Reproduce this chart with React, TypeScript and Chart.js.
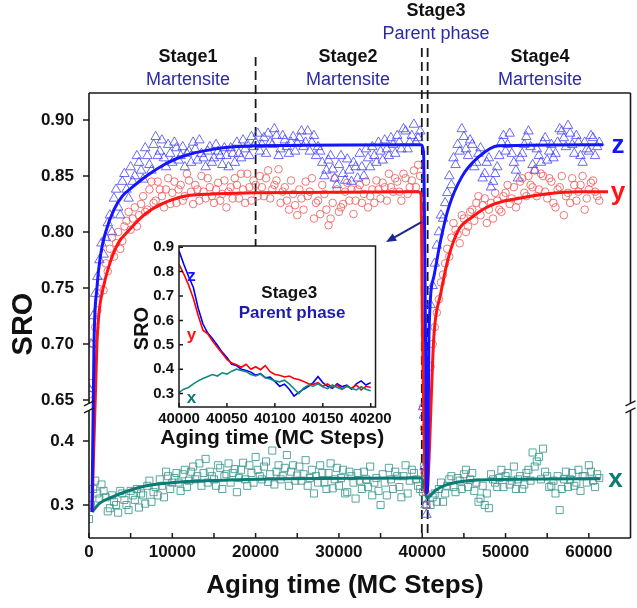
import React, { useEffect, useRef } from 'react';
import { Chart, LinearScale, registerables } from 'chart.js';

Chart.register(...registerables);

// ================= DATA =================
// Main chart: aging steps for stages 1-2 (martensite), stage 3 transition, stage 4
const stage12Steps = [0, 500, 1000, 1500, 2000, 2500, 3000, 3500, 4000, 4500, 5000, 5500, 6000, 6500, 7000, 7500, 8000, 8500, 9000, 9500, 10000, 10500, 11000, 11500, 12000, 12500, 13000, 13500, 14000, 14500, 15000, 15500, 16000, 16500, 17000, 17500, 18000, 18500, 19000, 19500, 20000, 20500, 21000, 21500, 22000, 22500, 23000, 23500, 24000, 24500, 25000, 25500, 26000, 26500, 27000, 27500, 28000, 28500, 29000, 29500, 30000, 30500, 31000, 31500, 32000, 32500, 33000, 33500, 34000, 34500, 35000, 35500, 36000, 36500, 37000, 37500, 38000, 38500, 39000, 39500];
const zStage12 = [0.660, 0.725, 0.760, 0.790, 0.795, 0.815, 0.830, 0.822, 0.845, 0.838, 0.858, 0.850, 0.862, 0.847, 0.868, 0.855, 0.885, 0.872, 0.866, 0.878, 0.862, 0.875, 0.868, 0.858, 0.872, 0.880, 0.864, 0.870, 0.858, 0.876, 0.866, 0.872, 0.860, 0.868, 0.875, 0.862, 0.870, 0.882, 0.878, 0.885, 0.880, 0.872, 0.884, 0.888, 0.878, 0.886, 0.874, 0.882, 0.870, 0.885, 0.879, 0.890, 0.880, 0.872, 0.886, 0.876, 0.862, 0.855, 0.868, 0.848, 0.860, 0.852, 0.865, 0.845, 0.858, 0.870, 0.850, 0.866, 0.876, 0.862, 0.872, 0.882, 0.868, 0.878, 0.886, 0.874, 0.890, 0.880, 0.896, 0.884];
const yStage12 = [0.655, 0.700, 0.730, 0.755, 0.772, 0.785, 0.778, 0.800, 0.792, 0.810, 0.802, 0.822, 0.815, 0.832, 0.820, 0.845, 0.828, 0.838, 0.822, 0.848, 0.835, 0.826, 0.842, 0.832, 0.846, 0.825, 0.838, 0.850, 0.830, 0.840, 0.826, 0.844, 0.834, 0.822, 0.840, 0.848, 0.830, 0.838, 0.852, 0.828, 0.842, 0.850, 0.832, 0.855, 0.838, 0.846, 0.826, 0.840, 0.820, 0.834, 0.815, 0.830, 0.845, 0.836, 0.812, 0.828, 0.842, 0.820, 0.812, 0.848, 0.818, 0.825, 0.844, 0.838, 0.828, 0.842, 0.834, 0.822, 0.838, 0.846, 0.830, 0.840, 0.852, 0.836, 0.845, 0.828, 0.848, 0.840, 0.855, 0.860];
const xStage12 = [0.278, 0.325, 0.318, 0.332, 0.312, 0.295, 0.305, 0.288, 0.318, 0.300, 0.322, 0.308, 0.296, 0.315, 0.330, 0.305, 0.328, 0.340, 0.312, 0.345, 0.335, 0.350, 0.322, 0.355, 0.338, 0.360, 0.345, 0.330, 0.372, 0.352, 0.340, 0.362, 0.325, 0.348, 0.335, 0.356, 0.342, 0.366, 0.330, 0.350, 0.375, 0.345, 0.360, 0.336, 0.385, 0.352, 0.340, 0.358, 0.330, 0.362, 0.346, 0.338, 0.370, 0.342, 0.318, 0.335, 0.350, 0.325, 0.365, 0.340, 0.330, 0.355, 0.320, 0.345, 0.310, 0.338, 0.352, 0.328, 0.315, 0.342, 0.300, 0.335, 0.358, 0.325, 0.345, 0.312, 0.362, 0.338, 0.350, 0.330];

const stage12StepsB = [250, 750, 1250, 1750, 2250, 2750, 3250, 3750, 4250, 4750, 5250, 5750, 6250, 6750, 7250, 7750, 8250, 8750, 9250, 9750, 10250, 10750, 11250, 11750, 12250, 12750, 13250, 13750, 14250, 14750, 15250, 15750, 16250, 16750, 17250, 17750, 18250, 18750, 19250, 19750, 20250, 20750, 21250, 21750, 22250, 22750, 23250, 23750, 24250, 24750, 25250, 25750, 26250, 26750, 27250, 27750, 28250, 28750, 29250, 29750, 30250, 30750, 31250, 31750, 32250, 32750, 33250, 33750, 34250, 34750, 35250, 35750, 36250, 36750, 37250, 37750, 38250, 38750, 39250, 39750];
const zStage12B = [0.700, 0.745, 0.775, 0.780, 0.808, 0.800, 0.838, 0.815, 0.852, 0.830, 0.845, 0.868, 0.855, 0.875, 0.860, 0.878, 0.868, 0.882, 0.858, 0.870, 0.880, 0.864, 0.876, 0.870, 0.862, 0.874, 0.882, 0.866, 0.872, 0.862, 0.878, 0.868, 0.875, 0.858, 0.870, 0.880, 0.866, 0.874, 0.868, 0.876, 0.888, 0.878, 0.870, 0.880, 0.892, 0.868, 0.886, 0.876, 0.880, 0.872, 0.884, 0.876, 0.890, 0.880, 0.868, 0.872, 0.850, 0.864, 0.856, 0.842, 0.868, 0.846, 0.855, 0.862, 0.848, 0.858, 0.874, 0.858, 0.868, 0.880, 0.864, 0.874, 0.884, 0.870, 0.880, 0.892, 0.874, 0.886, 0.880, 0.890];
const yStage12B = [0.665, 0.715, 0.745, 0.748, 0.765, 0.795, 0.790, 0.785, 0.805, 0.818, 0.812, 0.805, 0.825, 0.818, 0.838, 0.826, 0.845, 0.832, 0.838, 0.825, 0.845, 0.838, 0.828, 0.852, 0.836, 0.842, 0.828, 0.836, 0.848, 0.832, 0.838, 0.828, 0.846, 0.836, 0.830, 0.842, 0.852, 0.826, 0.840, 0.846, 0.832, 0.840, 0.848, 0.830, 0.842, 0.856, 0.836, 0.828, 0.846, 0.824, 0.838, 0.820, 0.832, 0.848, 0.826, 0.816, 0.834, 0.806, 0.826, 0.838, 0.822, 0.836, 0.828, 0.816, 0.838, 0.826, 0.845, 0.832, 0.826, 0.838, 0.844, 0.828, 0.840, 0.848, 0.836, 0.852, 0.834, 0.846, 0.840, 0.850];
const xStage12B = [0.300, 0.338, 0.310, 0.322, 0.290, 0.315, 0.300, 0.322, 0.308, 0.292, 0.315, 0.325, 0.318, 0.302, 0.338, 0.320, 0.315, 0.330, 0.352, 0.325, 0.342, 0.335, 0.348, 0.328, 0.352, 0.340, 0.365, 0.350, 0.335, 0.345, 0.330, 0.358, 0.345, 0.365, 0.350, 0.320, 0.355, 0.340, 0.362, 0.335, 0.355, 0.340, 0.368, 0.348, 0.332, 0.362, 0.345, 0.378, 0.352, 0.338, 0.360, 0.348, 0.330, 0.355, 0.345, 0.362, 0.335, 0.350, 0.326, 0.358, 0.342, 0.318, 0.352, 0.335, 0.350, 0.325, 0.340, 0.360, 0.335, 0.322, 0.348, 0.315, 0.340, 0.352, 0.328, 0.345, 0.318, 0.355, 0.340, 0.325];

const stage3Steps = [40100, 40200, 40300, 40400, 40500];
const zStage3 = [0.620, 0.440, 0.360, 0.300, 0.285];
const yStage3 = [0.580, 0.420, 0.350, 0.320, 0.300];
const xStage3 = [0.320, 0.360, 0.340, 0.310, 0.300];

const stage4Steps = [41000, 41500, 42000, 42500, 43000, 43500, 44000, 44500, 45000, 45500, 46000, 46500, 47000, 47500, 48000, 48500, 49000, 49500, 50000, 50500, 51000, 51500, 52000, 52500, 53000, 53500, 54000, 54500, 55000, 55500, 56000, 56500, 57000, 57500, 58000, 58500, 59000, 59500, 60000, 60500, 61000];
const zStage4 = [0.735, 0.772, 0.800, 0.812, 0.835, 0.842, 0.860, 0.872, 0.885, 0.868, 0.878, 0.862, 0.875, 0.852, 0.866, 0.845, 0.858, 0.880, 0.872, 0.888, 0.862, 0.848, 0.870, 0.885, 0.876, 0.855, 0.868, 0.880, 0.864, 0.878, 0.870, 0.892, 0.884, 0.895, 0.878, 0.886, 0.868, 0.880, 0.872, 0.884, 0.876];
const yStage4 = [0.680, 0.715, 0.740, 0.762, 0.785, 0.795, 0.802, 0.790, 0.812, 0.805, 0.820, 0.826, 0.815, 0.830, 0.820, 0.812, 0.828, 0.818, 0.835, 0.825, 0.840, 0.828, 0.848, 0.832, 0.842, 0.855, 0.838, 0.850, 0.830, 0.845, 0.822, 0.840, 0.815, 0.835, 0.848, 0.828, 0.842, 0.820, 0.838, 0.846, 0.832];
const xStage4 = [0.300, 0.318, 0.325, 0.305, 0.330, 0.345, 0.320, 0.338, 0.348, 0.328, 0.350, 0.335, 0.310, 0.300, 0.295, 0.340, 0.328, 0.355, 0.345, 0.332, 0.360, 0.340, 0.325, 0.350, 0.338, 0.360, 0.375, 0.388, 0.345, 0.330, 0.318, 0.292, 0.340, 0.328, 0.350, 0.335, 0.322, 0.345, 0.362, 0.338, 0.348];

const stage4StepsB = [41250, 41750, 42250, 42750, 43250, 43750, 44250, 44750, 45250, 45750, 46250, 46750, 47250, 47750, 48250, 48750, 49250, 49750, 50250, 50750, 51250, 51750, 52250, 52750, 53250, 53750, 54250, 54750, 55250, 55750, 56250, 56750, 57250, 57750, 58250, 58750, 59250, 59750, 60250, 60750, 61250];
const zStage4B = [0.752, 0.788, 0.815, 0.826, 0.850, 0.866, 0.878, 0.892, 0.874, 0.882, 0.858, 0.870, 0.848, 0.862, 0.840, 0.852, 0.868, 0.886, 0.878, 0.870, 0.855, 0.866, 0.878, 0.890, 0.860, 0.874, 0.862, 0.884, 0.872, 0.866, 0.880, 0.890, 0.876, 0.888, 0.870, 0.880, 0.862, 0.874, 0.886, 0.868, 0.880];
const yStage4B = [0.700, 0.728, 0.755, 0.772, 0.778, 0.808, 0.798, 0.815, 0.800, 0.818, 0.810, 0.832, 0.824, 0.808, 0.826, 0.835, 0.820, 0.832, 0.842, 0.830, 0.822, 0.845, 0.835, 0.850, 0.840, 0.832, 0.852, 0.836, 0.848, 0.826, 0.838, 0.850, 0.832, 0.826, 0.842, 0.836, 0.850, 0.830, 0.844, 0.836, 0.828];
const xStage4B = [0.312, 0.305, 0.335, 0.318, 0.340, 0.328, 0.342, 0.325, 0.355, 0.340, 0.322, 0.305, 0.330, 0.318, 0.348, 0.335, 0.342, 0.328, 0.350, 0.338, 0.325, 0.345, 0.332, 0.355, 0.382, 0.368, 0.340, 0.352, 0.328, 0.338, 0.345, 0.325, 0.352, 0.340, 0.330, 0.355, 0.345, 0.335, 0.352, 0.328, 0.342];

// Fitted curves
const zFitSteps = [360, 600, 950, 1400, 2000, 3000, 4000, 5200, 6900, 9000, 11000, 15000, 20000, 39800, 40150, 40400, 40550, 40650, 40800, 41390, 42220, 43180, 44730, 46770, 49160, 61700];
const zFitValues = [0.289, 0.700, 0.750, 0.780, 0.800, 0.820, 0.832, 0.840, 0.850, 0.860, 0.867, 0.874, 0.877, 0.878, 0.872, 0.700, 0.319, 0.330, 0.706, 0.760, 0.793, 0.822, 0.849, 0.867, 0.877, 0.878];
const yFitSteps = [360, 950, 1200, 1700, 2500, 3500, 4600, 6900, 10900, 14800, 20000, 39500, 39850, 40050, 40450, 40650, 41390, 42220, 43180, 44370, 45920, 48300, 51500, 54800, 58700, 62300];
const yFitValues = [0.289, 0.700, 0.728, 0.750, 0.772, 0.790, 0.800, 0.817, 0.831, 0.834, 0.835, 0.836, 0.834, 0.700, 0.319, 0.330, 0.706, 0.745, 0.778, 0.802, 0.813, 0.824, 0.830, 0.834, 0.836, 0.836];
const xFitSteps = [360, 1300, 2900, 4900, 6900, 10900, 16900, 22800, 39900, 40250, 40550, 41600, 42800, 44300, 46700, 61400];
const xFitValues = [0.289, 0.303, 0.313, 0.323, 0.330, 0.336, 0.339, 0.341, 0.342, 0.330, 0.311, 0.323, 0.331, 0.336, 0.339, 0.341];

// Axis ticks / annotations
const mainXTicks = [0, 10000, 20000, 30000, 40000, 50000, 60000];
const mainXMinorTicks = [0, 5000, 10000, 15000, 20000, 25000, 30000, 35000, 40000, 45000, 50000, 55000, 60000];
const mainYTicks = [0.3, 0.4, 0.65, 0.70, 0.75, 0.80, 0.85, 0.90];
const stageBoundarySteps = [20000, 39950, 40650];
const stageNames = ['Stage1', 'Stage2', 'Stage3', 'Stage4'];
const stagePhases = ['Martensite', 'Martensite', 'Parent phase', 'Martensite'];
const seriesNames = ['z', 'y', 'x'];

// Inset (stage 3, parent phase)
const insetSteps = [40000, 40005, 40010, 40015, 40020, 40025, 40030, 40035, 40040, 40045, 40050, 40055, 40060, 40065, 40070, 40075, 40080, 40085, 40090, 40095, 40100, 40105, 40110, 40115, 40120, 40125, 40130, 40135, 40140, 40145, 40150, 40155, 40160, 40165, 40170, 40175, 40180, 40185, 40190, 40195, 40200];
const insetZ = [0.885, 0.830, 0.780, 0.735, 0.650, 0.585, 0.548, 0.525, 0.498, 0.470, 0.448, 0.420, 0.415, 0.400, 0.395, 0.388, 0.375, 0.382, 0.365, 0.368, 0.350, 0.330, 0.338, 0.318, 0.290, 0.305, 0.318, 0.330, 0.345, 0.370, 0.345, 0.330, 0.322, 0.340, 0.328, 0.335, 0.318, 0.340, 0.352, 0.335, 0.345];
const insetY = [0.830, 0.790, 0.745, 0.690, 0.620, 0.560, 0.545, 0.515, 0.490, 0.465, 0.440, 0.425, 0.418, 0.408, 0.420, 0.400, 0.410, 0.398, 0.415, 0.390, 0.378, 0.375, 0.368, 0.372, 0.362, 0.358, 0.350, 0.340, 0.338, 0.345, 0.330, 0.340, 0.325, 0.335, 0.318, 0.330, 0.322, 0.335, 0.315, 0.330, 0.325];
const insetX = [0.305, 0.318, 0.325, 0.340, 0.352, 0.362, 0.370, 0.378, 0.372, 0.385, 0.380, 0.392, 0.400, 0.395, 0.390, 0.378, 0.372, 0.380, 0.365, 0.360, 0.352, 0.348, 0.355, 0.340, 0.320, 0.300, 0.322, 0.335, 0.330, 0.340, 0.328, 0.320, 0.335, 0.325, 0.318, 0.330, 0.322, 0.315, 0.328, 0.318, 0.312];
const insetXTicks = [40000, 40050, 40100, 40150, 40200];
const insetYTicks = [0.3, 0.4, 0.5, 0.6, 0.7, 0.8, 0.9];

// ================= BROKEN Y SCALE =================
const LOW_PANEL_MAX = 0.4531;
const HIGH_PANEL_MIN = 0.6438;
const LOW_FRACTION = 0.2944;

class BrokenLinearScale extends LinearScale {
  static id = 'brokenLinear';
  static defaults = (LinearScale as any).defaults;
  getPixelForValue(value: any) {
    if (value === null || value === undefined || isNaN(value)) return NaN;
    const min = (this as any).min, max = (this as any).max;
    let d: number;
    if (value <= LOW_PANEL_MAX) d = ((value - min) / (LOW_PANEL_MAX - min)) * LOW_FRACTION;
    else if (value >= HIGH_PANEL_MIN) d = LOW_FRACTION + ((value - HIGH_PANEL_MIN) / (max - HIGH_PANEL_MIN)) * (1 - LOW_FRACTION);
    else d = LOW_FRACTION;
    return (this as any).getPixelForDecimal(d);
  }
  getValueForPixel(pixel: number) {
    const d = (this as any).getDecimalForPixel(pixel);
    const min = (this as any).min, max = (this as any).max;
    if (d <= LOW_FRACTION) return min + (d / LOW_FRACTION) * (LOW_PANEL_MAX - min);
    return HIGH_PANEL_MIN + ((d - LOW_FRACTION) / (1 - LOW_FRACTION)) * (max - HIGH_PANEL_MIN);
  }
}
Chart.register(BrokenLinearScale as any);

const FONT = '"Liberation Sans", Arial, Helvetica, sans-serif';
const BLUE = '#1414ff';
const RED = '#ff1414';
const TEAL = '#0b7b76';
const NAVY = '#2a2aa6';

const pts = (xs: number[], ys: number[]) => xs.map((x, i) => ({ x, y: ys[i] }));

function drawArrow(ctx: any, x1: number, y1: number, x2: number, y2: number) {
  const ang = Math.atan2(y2 - y1, x2 - x1);
  const head = 11;
  ctx.beginPath();
  ctx.moveTo(x1, y1);
  ctx.lineTo(x2 - Math.cos(ang) * head * 0.7, y2 - Math.sin(ang) * head * 0.7);
  ctx.stroke();
  ctx.beginPath();
  ctx.moveTo(x2, y2);
  ctx.lineTo(x2 - head * Math.cos(ang - 0.4), y2 - head * Math.sin(ang - 0.4));
  ctx.lineTo(x2 - head * Math.cos(ang + 0.4), y2 - head * Math.sin(ang + 0.4));
  ctx.closePath();
  ctx.fill();
}

const mainDecor = {
  id: 'mainDecor',
  beforeDatasetsDraw(chart: any) {
    const { ctx, chartArea: a, scales } = chart;
    const xs = scales.x, ys = scales.y;
    const breakPx = ys.getPixelForValue(HIGH_PANEL_MIN);
    ctx.save();
    ctx.strokeStyle = '#1a1a1a';
    ctx.lineWidth = 1.8;
    ctx.setLineDash([9, 5]);
    stageBoundarySteps.forEach((s, i) => {
      const px = xs.getPixelForValue(s);
      ctx.beginPath();
      ctx.moveTo(px, i === 0 ? 57 : 48);
      ctx.lineTo(px, i === 0 ? breakPx : a.bottom);
      ctx.stroke();
    });
    ctx.restore();
  },
  afterDatasetsDraw(chart: any) {
    const { ctx, chartArea: a, scales } = chart;
    const xs = scales.x, ys = scales.y;
    const b = ys.getPixelForValue(HIGH_PANEL_MIN);
    ctx.save();
    // frame with axis break
    ctx.strokeStyle = '#1a1a1a';
    ctx.lineWidth = 1.6;
    ctx.setLineDash([]);
    ctx.beginPath();
    ctx.moveTo(a.left, a.top); ctx.lineTo(a.right, a.top);
    ctx.moveTo(a.left, a.bottom); ctx.lineTo(a.right, a.bottom);
    ctx.moveTo(a.left, a.top); ctx.lineTo(a.left, b - 4);
    ctx.moveTo(a.left, b + 4); ctx.lineTo(a.left, a.bottom);
    ctx.moveTo(a.right, a.top); ctx.lineTo(a.right, b - 4);
    ctx.moveTo(a.right, b + 4); ctx.lineTo(a.right, a.bottom);
    ctx.stroke();
    ctx.lineWidth = 1.4;
    [a.left, a.right].forEach((xx) => {
      ctx.beginPath();
      ctx.moveTo(xx - 5, b - 1); ctx.lineTo(xx + 5, b - 6);
      ctx.moveTo(xx - 5, b + 6); ctx.lineTo(xx + 5, b + 1);
      ctx.stroke();
    });
    // tick marks
    ctx.lineWidth = 1.5;
    ctx.beginPath();
    mainYTicks.forEach((v) => {
      const py = ys.getPixelForValue(v);
      ctx.moveTo(a.left - 6, py); ctx.lineTo(a.left, py);
    });
    mainXMinorTicks.forEach((v) => {
      const px = xs.getPixelForValue(v);
      ctx.moveTo(px, a.bottom); ctx.lineTo(px, a.bottom - 5);
    });
    ctx.stroke();

    // arrow pointing to inset
    ctx.strokeStyle = '#1c2590';
    ctx.fillStyle = '#1c2590';
    ctx.lineWidth = 2;
    drawArrow(ctx, xs.getPixelForValue(39950), ys.getPixelForValue(0.809), xs.getPixelForValue(35650), ys.getPixelForValue(0.791));

    // series labels at right end
    ctx.font = `bold 26px ${FONT}`;
    ctx.textAlign = 'center';
    ctx.textBaseline = 'middle';
    const labelSteps = [63500, 63500, 63200];
    const labelVals = [0.878, 0.836, 0.341];
    const labelCols = [BLUE, RED, TEAL];
    seriesNames.forEach((n, i) => {
      ctx.fillStyle = labelCols[i];
      ctx.fillText(n, xs.getPixelForValue(labelSteps[i]), ys.getPixelForValue(labelVals[i]) + 1);
    });

    // stage labels (above plot)
    const stageCx = [188, 348, 436, 540];
    const stageY = [57, 57, 11, 57];
    stageNames.forEach((n, i) => {
      ctx.fillStyle = '#111';
      ctx.font = `bold 18px ${FONT}`;
      ctx.fillText(n, stageCx[i], stageY[i]);
      ctx.fillStyle = NAVY;
      ctx.font = `18px ${FONT}`;
      ctx.fillText(stagePhases[i], stageCx[i], stageY[i] + 23);
    });

    // axis titles
    ctx.fillStyle = '#111';
    ctx.font = `bold 26px ${FONT}`;
    ctx.fillText('Aging time (MC Steps)', 345, 586);
    ctx.save();
    ctx.translate(24, 324);
    ctx.rotate(-Math.PI / 2);
    ctx.font = `bold 29px ${FONT}`;
    ctx.fillText('SRO', 0, 0);
    ctx.restore();
    ctx.restore();
  },
};

const insetDecor = {
  id: 'insetDecor',
  beforeDraw(chart: any) {
    const { ctx, chartArea: a } = chart;
    ctx.save();
    ctx.fillStyle = '#fff';
    ctx.fillRect(a.left, a.top, a.right - a.left, a.bottom - a.top);
    ctx.restore();
  },
  afterDatasetsDraw(chart: any) {
    const { ctx, chartArea: a, scales } = chart;
    const xs = scales.x, ys = scales.y;
    ctx.save();
    ctx.strokeStyle = '#1a1a1a';
    ctx.lineWidth = 1.5;
    ctx.strokeRect(a.left, a.top, a.right - a.left, a.bottom - a.top);
    ctx.beginPath();
    insetYTicks.forEach((v) => {
      const py = ys.getPixelForValue(v);
      ctx.moveTo(a.left, py); ctx.lineTo(a.left + 4, py);
    });
    insetXTicks.forEach((v) => {
      const px = xs.getPixelForValue(v);
      ctx.moveTo(px, a.bottom); ctx.lineTo(px, a.bottom - 4);
    });
    ctx.stroke();
    ctx.textAlign = 'center';
    ctx.textBaseline = 'middle';
    // series labels
    ctx.font = `bold 17px ${FONT}`;
    const lv = [0.78, 0.54, 0.28];
    const cols = [BLUE, RED, TEAL];
    seriesNames.forEach((n, i) => {
      ctx.fillStyle = cols[i];
      ctx.fillText(n, xs.getPixelForValue(40013), ys.getPixelForValue(lv[i]));
    });
    ctx.fillStyle = '#111';
    ctx.font = `bold 17px ${FONT}`;
    ctx.fillText(stageNames[2], xs.getPixelForValue(40115), ys.getPixelForValue(0.71));
    ctx.fillStyle = '#1d1da8';
    ctx.fillText(stagePhases[2], xs.getPixelForValue(40118), ys.getPixelForValue(0.63));
    // titles
    ctx.fillStyle = '#111';
    ctx.font = `bold 21px ${FONT}`;
    ctx.fillText('Aging time (MC Steps)', (a.left + a.right) / 2 - 5, a.bottom + 31);
    ctx.save();
    ctx.translate(14, (a.top + a.bottom) / 2 + 2);
    ctx.rotate(-Math.PI / 2);
    ctx.font = `bold 20px ${FONT}`;
    ctx.fillText('SRO', 0, 0);
    ctx.restore();
    ctx.restore();
  },
};

export default function App() {
  const mainRef = useRef<HTMLCanvasElement | null>(null);
  const insetRef = useRef<HTMLCanvasElement | null>(null);

  useEffect(() => {
    document.body.style.margin = '0';
    Chart.defaults.font.family = FONT;
    Chart.defaults.color = '#111';

    const markerBase = { showLine: false, borderWidth: 1, pointBackgroundColor: 'rgba(0,0,0,0)', order: 2 };
    const fitBase = { showLine: true, pointRadius: 0, borderWidth: 3, cubicInterpolationMode: 'monotone', order: 0, fill: false };
    const triCol = 'rgba(70,70,245,0.8)';
    const cirCol = 'rgba(240,95,95,0.85)';
    const sqCol = 'rgba(60,150,142,0.85)';

    const main = new Chart(mainRef.current as HTMLCanvasElement, {
      type: 'scatter',
      data: {
        datasets: [
          { ...fitBase, data: pts(zFitSteps, zFitValues), borderColor: BLUE },
          { ...fitBase, data: pts(yFitSteps, yFitValues), borderColor: RED },
          { ...fitBase, data: pts(xFitSteps, xFitValues), borderColor: TEAL },
          { ...markerBase, data: [...pts(stage12Steps, zStage12), ...pts(stage12StepsB, zStage12B), ...pts(stage3Steps, zStage3), ...pts(stage4Steps, zStage4), ...pts(stage4StepsB, zStage4B)], pointStyle: 'triangle', pointRadius: 5.5, pointBorderColor: triCol, borderColor: triCol },
          { ...markerBase, data: [...pts(stage12Steps, yStage12), ...pts(stage12StepsB, yStage12B), ...pts(stage3Steps, yStage3), ...pts(stage4Steps, yStage4), ...pts(stage4StepsB, yStage4B)], pointStyle: 'circle', pointRadius: 3.8, pointBorderColor: cirCol, borderColor: cirCol },
          { ...markerBase, data: [...pts(stage12Steps, xStage12), ...pts(stage12StepsB, xStage12B), ...pts(stage3Steps, xStage3), ...pts(stage4Steps, xStage4), ...pts(stage4StepsB, xStage4B)], pointStyle: 'rect', pointRadius: 5, pointBorderColor: sqCol, borderColor: sqCol },
        ] as any,
      },
      options: {
        animation: false,
        responsive: false,
        events: [],
        layout: { padding: { left: 0, right: 5, top: 93, bottom: 0 } },
        plugins: { legend: { display: false }, tooltip: { enabled: false } },
        scales: {
          x: {
            type: 'linear', min: 0, max: 65000, bounds: 'data',
            grid: { display: false, drawTicks: false }, border: { display: false },
            ticks: { autoSkip: false, maxRotation: 0, padding: 4, color: '#111', font: { size: 17, weight: 'bold' }, callback: (v: any) => String(v) },
            afterBuildTicks: (s: any) => { s.ticks = mainXTicks.map((v) => ({ value: v })); },
            afterFit: (s: any) => { s.height = 70; },
          },
          y: {
            type: 'brokenLinear', min: 0.2484, max: 0.9241, bounds: 'data',
            grid: { display: false, drawTicks: false }, border: { display: false },
            ticks: { autoSkip: false, padding: 15, color: '#111', font: { size: 17, weight: 'bold' }, callback: (v: any) => (v > 0.5 ? Number(v).toFixed(2) : Number(v).toFixed(1)) },
            afterBuildTicks: (s: any) => { s.ticks = mainYTicks.map((v) => ({ value: v })); },
            afterFit: (s: any) => { s.width = 89; },
          },
        } as any,
      },
      plugins: [mainDecor],
    } as any);

    const lineBase = { showLine: true, pointRadius: 0, borderWidth: 1.6, tension: 0, fill: false };
    const inset = new Chart(insetRef.current as HTMLCanvasElement, {
      type: 'scatter',
      data: {
        datasets: [
          { ...lineBase, data: pts(insetSteps, insetX), borderColor: '#108a80' },
          { ...lineBase, data: pts(insetSteps, insetY), borderColor: '#ff0000' },
          { ...lineBase, data: pts(insetSteps, insetZ), borderColor: '#0000ff' },
        ] as any,
      },
      options: {
        animation: false,
        responsive: false,
        events: [],
        layout: { padding: { left: 0, right: 17, top: 10, bottom: 0 } },
        plugins: { legend: { display: false }, tooltip: { enabled: false } },
        scales: {
          x: {
            type: 'linear', min: 40000, max: 40205, bounds: 'data',
            grid: { display: false, drawTicks: false }, border: { display: false },
            ticks: { autoSkip: false, maxRotation: 0, padding: 3, color: '#111', font: { size: 15, weight: 'bold' }, callback: (v: any) => String(v) },
            afterBuildTicks: (s: any) => { s.ticks = insetXTicks.map((v) => ({ value: v })); },
            afterFit: (s: any) => { s.height = 47; },
          },
          y: {
            type: 'linear', min: 0.245, max: 0.905, bounds: 'data',
            grid: { display: false, drawTicks: false }, border: { display: false },
            ticks: { autoSkip: false, padding: 5, color: '#111', font: { size: 15, weight: 'bold' }, callback: (v: any) => Number(v).toFixed(1) },
            afterBuildTicks: (s: any) => { s.ticks = insetYTicks.map((v) => ({ value: v })); },
            afterFit: (s: any) => { s.width = 51; },
          },
        } as any,
      },
      plugins: [insetDecor],
    } as any);

    return () => {
      main.destroy();
      inset.destroy();
    };
  }, []);

  return (
    <div style={{ position: 'relative', width: 637, height: 608, background: '#fff' }}>
      <canvas ref={mainRef} width={637} height={608} style={{ position: 'absolute', left: 0, top: 0 }} />
      <canvas ref={insetRef} width={267} height={222} style={{ position: 'absolute', left: 128, top: 232 }} />
    </div>
  );
}
